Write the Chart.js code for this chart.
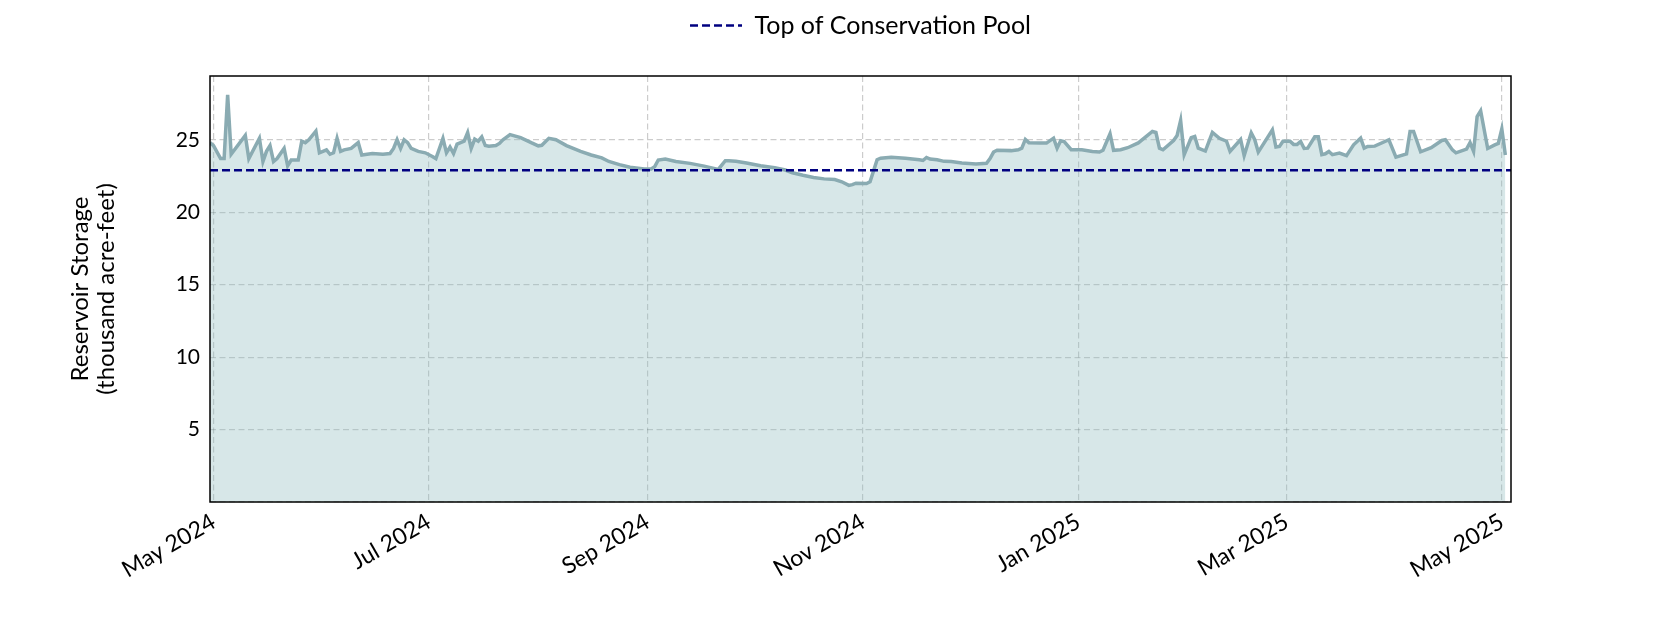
<!DOCTYPE html>
<html>
<head>
<meta charset="utf-8">
<script src="https://cdn.jsdelivr.net/npm/chart.js@4.4.1/dist/chart.umd.min.js"></script>
<style>
  html, body { margin: 0; padding: 0; background: #fff; }
  #wrap { width: 1680px; height: 630px; }
</style>
</head>
<body>
<div id="wrap"><canvas id="chart1"></canvas></div>
<script>
// day number counted from 1 May 2024, storage in thousand acre-feet
const storageDays = [
  -1, 0, 2, 3, 4, 5, 9, 10, 13, 14,
  15, 16, 17, 18, 20, 21, 22, 24, 25, 26,
  27, 29, 30, 31, 32, 33, 34, 35, 36, 37,
  39, 41, 42, 45, 48, 50, 51, 52, 53, 54,
  55, 56, 58, 60, 62, 63, 65, 66, 67, 68,
  69, 70, 71, 72, 73, 74, 75, 76, 77, 78,
  80, 81, 82, 84, 87, 90, 92, 93, 95, 97,
  100, 104, 107, 110, 112, 115, 118, 122, 124, 125,
  126, 128, 131, 135, 139, 143, 145, 146, 148, 151,
  155, 159, 162, 164, 167, 170, 173, 176, 178, 180,
  181, 182, 185, 186, 187, 188, 189, 192, 196, 200,
  201, 202, 203, 205, 207, 209, 212, 216, 219, 220,
  221, 222, 226, 228, 229, 230, 231, 234, 236, 238,
  239, 240, 241, 243, 246, 249, 251, 252, 254, 255,
  257, 259, 262, 266, 267, 268, 269, 272, 273, 274,
  275, 277, 278, 279, 281, 283, 285, 287, 288, 291,
  292, 294, 295, 296, 300, 301, 302, 303, 305, 306,
  307, 308, 309, 310, 312, 313, 314, 315, 316, 317,
  319, 321, 323, 325, 326, 327, 329, 333, 335, 338,
  339, 340, 342, 345, 348, 349, 351, 352, 355, 356,
  357, 358, 359, 361, 363, 364, 365, 366
];
const storageValues = [
  24.8, 24.6, 23.7, 23.7, 28.1, 24.0, 25.3, 23.7, 25.1, 23.5,
  24.2, 24.6, 23.5, 23.7, 24.4, 23.2, 23.6, 23.6, 24.9, 24.8,
  25.0, 25.6, 24.1, 24.2, 24.3, 24.0, 24.1, 25.1, 24.2, 24.3,
  24.4, 24.8, 23.95, 24.05, 24.0, 24.05, 24.4, 25.0, 24.4, 25.0,
  24.8, 24.4, 24.2, 24.1, 23.85, 23.7, 25.1, 24.1, 24.5, 24.05,
  24.7, 24.8, 24.9, 25.5, 24.4, 25.05, 24.9, 25.2, 24.6, 24.55,
  24.6, 24.75, 25.0, 25.35, 25.15, 24.8, 24.58, 24.62, 25.1, 25.0,
  24.6, 24.2, 23.95, 23.75, 23.5, 23.28, 23.1, 22.98, 22.98, 23.15,
  23.6, 23.67, 23.5, 23.37, 23.18, 22.95, 23.55, 23.55, 23.52, 23.4,
  23.21, 23.07, 22.91, 22.72, 22.55, 22.4, 22.3, 22.25, 22.1, 21.85,
  21.9, 22.0, 21.98, 22.1, 22.85, 23.62, 23.73, 23.8, 23.73, 23.62,
  23.57, 23.78, 23.67, 23.62, 23.51, 23.5, 23.39, 23.32, 23.38, 23.7,
  24.15, 24.28, 24.25, 24.31, 24.42, 25.02, 24.8, 24.77, 24.77, 25.11,
  24.42, 24.93, 24.88, 24.31, 24.31, 24.19, 24.15, 24.28, 25.41, 24.27,
  24.31, 24.45, 24.78, 25.57, 25.5, 24.42, 24.31, 24.95, 25.3, 26.33,
  23.97, 25.15, 25.23, 24.42, 24.22, 25.5, 25.1, 24.9, 24.2, 25.02,
  23.9, 25.48, 25.0, 24.15, 25.69, 24.5, 24.54, 24.9, 24.9, 24.68,
  24.68, 24.88, 24.4, 24.42, 25.2, 25.2, 23.97, 24.03, 24.19, 23.97,
  24.08, 23.9, 24.65, 25.11, 24.42, 24.54, 24.56, 25.0, 23.8, 24.03,
  25.57, 25.57, 24.17, 24.45, 24.95, 25.0, 24.3, 24.1, 24.35, 24.8,
  24.2, 26.6, 27.0, 24.4, 24.65, 24.75, 25.75, 23.95
];
const poolTop = 22.9;
const xLimits = [-1, 367.6];
const yLimits = [0, 29.4];
const monthTickDays = [0, 61, 123, 184, 245, 304, 365];
const monthTickLabels = ["May 2024", "Jul 2024", "Sep 2024", "Nov 2024", "Jan 2025", "Mar 2025", "May 2025"];
const yTickValues = [0, 5, 10, 15, 20, 25];

const FONT = "Lato, 'Open Sans', sans-serif";

// frame on all four sides of the plot
const framePlugin = {
  id: "frame",
  afterDatasetsDraw(chart) {
    const a = chart.chartArea;
    const ctx = chart.ctx;
    ctx.save();
    ctx.strokeStyle = "#000";
    ctx.lineWidth = 1.5;
    ctx.strokeRect(a.left, a.top, a.right - a.left, a.bottom - a.top);
    ctx.restore();
  },
};

// leave room between legend and plot
const legendGap = {
  id: "legendGap",
  beforeInit(chart) {
    const fit = chart.legend.fit;
    chart.legend.fit = function () {
      fit.call(this);
      this.height = 76;
    };
  },
};

function legendLabels(chart) {
  const items = Chart.defaults.plugins.legend.labels.generateLabels(chart);
  return items
    .filter((item) => item.datasetIndex === 0)
    .map((item) => {
      const ds = chart.data.datasets[item.datasetIndex];
      return Object.assign(item, {
        lineDash: ds.borderDash,
        lineWidth: ds.borderWidth,
        strokeStyle: ds.borderColor,
        pointStyle: "line",
      });
    });
}

document.addEventListener("DOMContentLoaded", function () {
  const ctx = document.getElementById("chart1").getContext("2d");
  new Chart(ctx, {
    type: "line",
    data: {
      datasets: [
        {
          label: "Top of Conservation Pool",
          data: xLimits.map((x) => ({ x: x, y: poolTop })),
          borderColor: "#000080",
          backgroundColor: "#000080",
          borderWidth: 2.5,
          borderDash: [8, 4],
          pointRadius: 0,
          fill: false,
          order: 1,
        },
        {
          label: "Reservoir Storage",
          data: storageDays.map((d, i) => ({ x: d, y: storageValues[i] })),
          borderColor: "#8aabb2",
          backgroundColor: "rgba(140, 185, 190, 0.35)",
          borderWidth: 3.5,
          pointRadius: 0,
          tension: 0,
          fill: "origin",
          order: 2,
        },
      ],
    },
    options: {
      responsive: true,
      maintainAspectRatio: false,
      animation: false,
      layout: { padding: { left: 40, right: 169, top: 0, bottom: 0 } },
      plugins: {
        tooltip: { enabled: false },
        legend: {
          position: "top",
          fullSize: false,
          labels: {
            generateLabels: legendLabels,
            usePointStyle: true,
            pointStyle: "line",
            pointStyleWidth: 52,
            boxHeight: 12,
            padding: 13,
            color: "#000",
            font: { family: FONT, size: 25 },
          },
        },
      },
      scales: {
        x: {
          type: "linear",
          min: xLimits[0],
          max: xLimits[1],
          afterBuildTicks: (scale) => {
            scale.ticks = monthTickDays.map((v) => ({ value: v }));
          },
          afterFit: (scale) => {
            scale.height = 128;
          },
          ticks: {
            autoSkip: false,
            minRotation: 30,
            maxRotation: 30,
            padding: 6,
            color: "#000",
            font: { family: FONT, size: 23 },
            callback: (v) => monthTickLabels[monthTickDays.indexOf(v)],
          },
          grid: {
            color: "rgba(0,0,0,0.2)",
            lineWidth: 1.2,
            drawTicks: false,
          },
          border: { display: false, dash: [6, 3.5] },
        },
        y: {
          min: yLimits[0],
          max: yLimits[1],
          afterBuildTicks: (scale) => {
            scale.ticks = yTickValues.map((v) => ({ value: v }));
          },
          afterFit: (scale) => {
            scale.width = 170;
          },
          ticks: {
            padding: 10,
            color: "#000",
            font: { family: FONT, size: 21 },
            callback: (v) => (v === 0 ? "" : v),
          },
          grid: {
            color: "rgba(0,0,0,0.2)",
            lineWidth: 1.2,
            drawTicks: false,
          },
          border: { display: false, dash: [6, 3.5] },
          title: {
            display: true,
            text: ["Reservoir Storage", "(thousand acre-feet)"],
            color: "#000",
            font: { family: FONT, size: 24, lineHeight: 1.05 },
            padding: { top: 28, bottom: 0 },
          },
        },
      },
    },
    plugins: [framePlugin, legendGap],
  });
});
</script>
</body>
</html>
